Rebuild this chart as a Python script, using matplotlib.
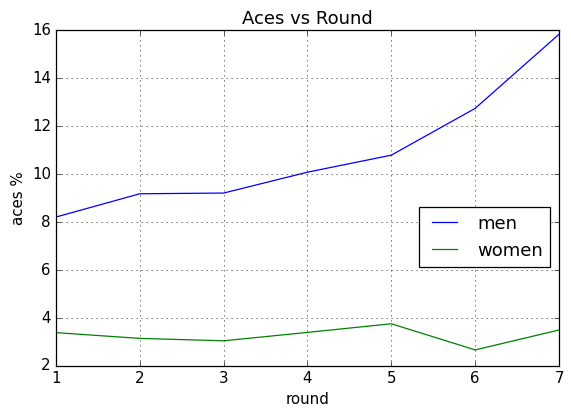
import matplotlib
matplotlib.use("Agg")
import matplotlib.pyplot as plt

rounds = [1, 2, 3, 4, 5, 6, 7]
men = [8.21, 9.18, 9.21, 10.08, 10.79, 12.74, 15.83]
women = [3.39, 3.15, 3.05, 3.40, 3.76, 2.67, 3.50]

plt.style.use("classic")

DPI = 90
fig = plt.figure(figsize=(571 / DPI, 408 / DPI), dpi=DPI)
ax = fig.add_subplot(111)
fig.subplots_adjust(left=0.098, right=0.979, top=0.926, bottom=0.103)

ax.plot(rounds, men, color="b", label="men")
ax.plot(rounds, women, color="g", label="women")
ax.set_title("Aces vs Round")
ax.set_xlabel("round")
ax.set_ylabel("aces %")
ax.grid(True)
ax.legend(loc="center right", bbox_to_anchor=(1.0, 0.384))

fig.savefig("out.png", dpi=DPI)
